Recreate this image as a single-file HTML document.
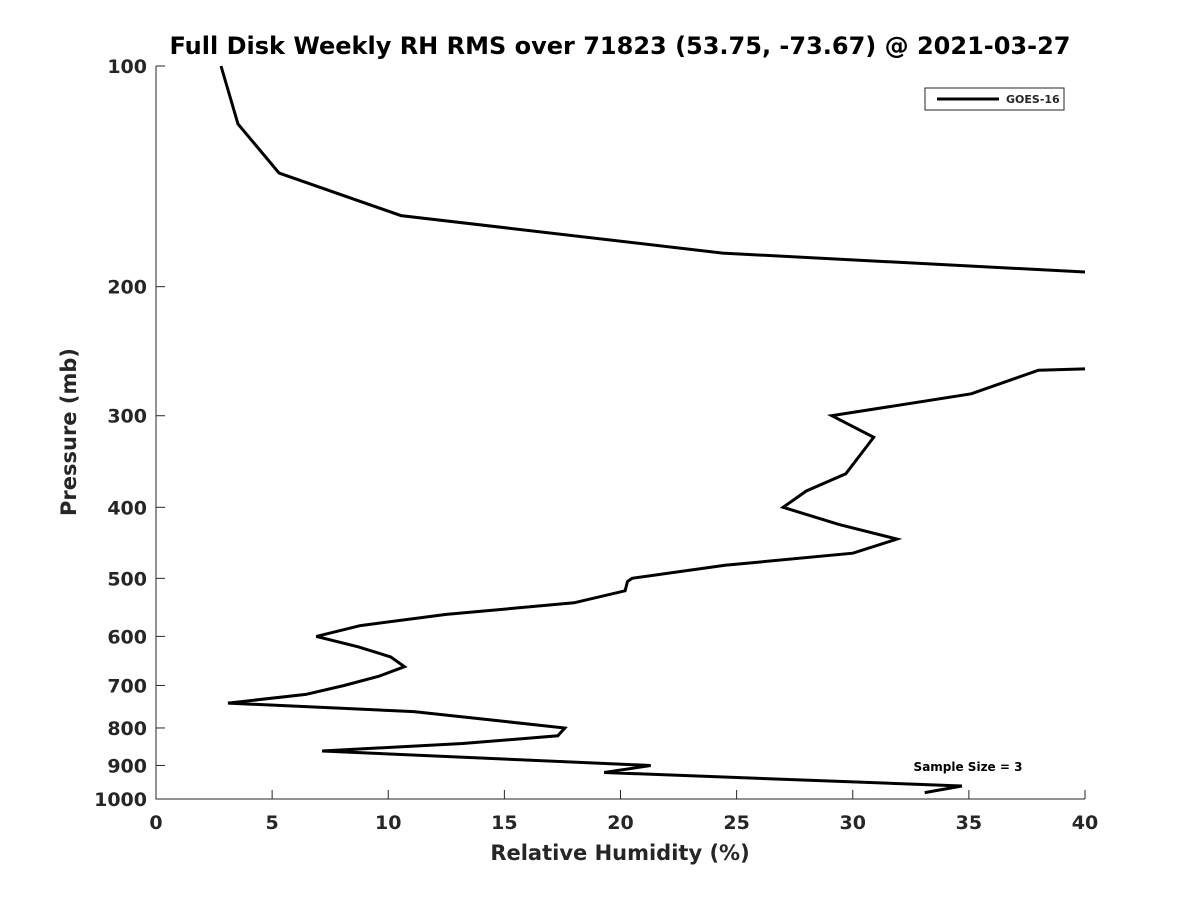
<!DOCTYPE html>
<html><head><meta charset="utf-8"><style>
body{margin:0;background:#fff;font-family:"Liberation Sans","DejaVu Sans",sans-serif;}
text{font-family:"DejaVu Sans","Liberation Sans",sans-serif;font-weight:bold;fill:#262626;}
</style></head><body>
<svg width="1200" height="900">
<rect width="1200" height="900" fill="#fff"/>
<text x="620" y="54" font-size="24" text-anchor="middle" fill="#000" style="fill:#000">Full Disk Weekly RH RMS over 71823 (53.75, -73.67) @ 2021-03-27</text>
<defs><clipPath id="pc"><rect x="156" y="60" width="929" height="745"/></clipPath></defs>
<g id="axes"></g>
<g id="series" clip-path="url(#pc)"></g>
<text x="620" y="860" font-size="21" text-anchor="middle">Relative Humidity (%)</text>
<text transform="translate(76,432) rotate(-90)" font-size="21" text-anchor="middle">Pressure (mb)</text>
<g>
<rect x="925" y="88" width="139" height="22" fill="#fff" stroke="#262626" stroke-width="1"/>
<line x1="937" y1="99" x2="999" y2="99" stroke="#000" stroke-width="3"/>
<text x="1006" y="103" font-size="11">GOES-16</text>
</g>
<text x="968" y="771" font-size="12" text-anchor="middle" fill="#000" style="fill:#000">Sample Size = 3</text>
</svg>
<script>
const xTicks=[0,5,10,15,20,25,30,35,40];
const yTicks=[100,200,300,400,500,600,700,800,900,1000];
const rh=[2.8,3.53,5.3,10.55,24.4,40,48,44,40,38,35.1,29.1,30.9,30.3,29.7,28,27,29.4,31.9,30,24.5,20.5,20.3,20.2,18,12.5,8.8,6.9,8.7,10.1,10.7,9.6,8.1,6.45,3.1,11.1,14.4,17.6,17.3,13.2,7.15,21.3,19.3,34.7,33.1];
const pres=[100,120,140,160,180,191,210,240,259,260,280,300,321,340,360,380,400,422,442,462,480,500,505,520,540,560,580,600,620,640,660,680,700,720,740,760,780,800,820,840,860,900,920,960,980];
const X0=156,X1=1085,Y0=66,Y1=799;
const xs=v=>X0+(v-0)/(40-0)*(X1-X0);
const ys=p=>Y0+(Math.log10(p)-2)/(3-2)*(Y1-Y0);
const NS='http://www.w3.org/2000/svg';
function mk(t,a,parent){const e=document.createElementNS(NS,t);for(const k in a)e.setAttribute(k,a[k]);parent.appendChild(e);return e;}
const ax=document.getElementById('axes');
let l=mk('line',{x1:X0,y1:Y0,x2:X0,y2:Y1+0.5,stroke:'#262626','stroke-width':1},ax);


l=mk('line',{x1:X0,y1:Y1,x2:X1,y2:Y1,stroke:'#262626','stroke-width':1},ax);


xTicks.forEach(v=>{const x=xs(v);
 const t=mk('line',{x1:x,y1:Y1,x2:x,y2:Y1-9,stroke:'#262626'},ax);
 
 
 const tx=mk('text',{x:x,y:Y1+30,'font-size':19,'text-anchor':'middle'},ax);tx.textContent=v;
 
 });
yTicks.forEach(p=>{const y=ys(p);
 const t=mk('line',{x1:X0,y1:y,x2:X0+9,y2:y,stroke:'#262626'},ax);
 
 
 const tx=mk('text',{x:X0-9,y:y+7,'font-size':19,'text-anchor':'end'},ax);tx.textContent=p;
 
 });
const pts=rh.map((v,i)=>xs(v).toFixed(1)+','+ys(pres[i]).toFixed(1)).join(' ');
const pl=mk('polyline',{points:pts,fill:'none',stroke:'#000','stroke-width':3,'stroke-linejoin':'miter'},document.getElementById('series'));


</script>
</body></html>
